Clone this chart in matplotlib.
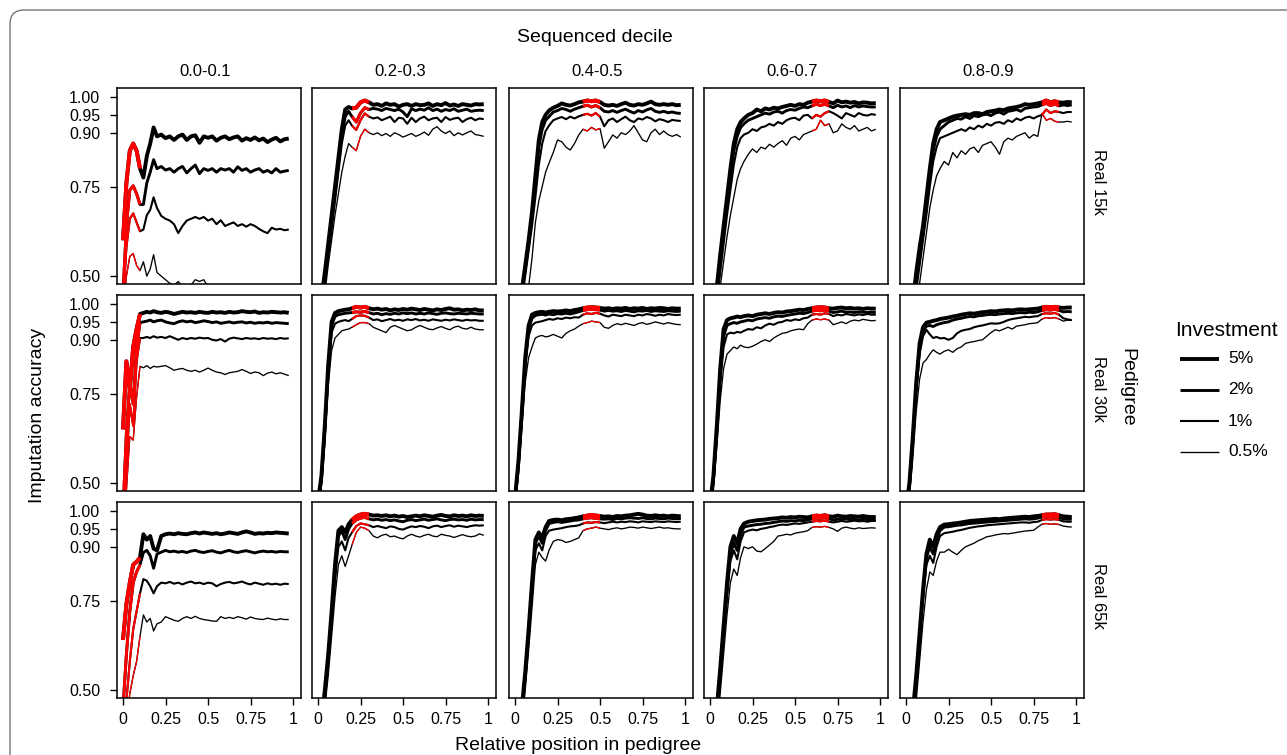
import matplotlib
matplotlib.use("Agg")
import matplotlib.pyplot as plt
from matplotlib.patches import FancyBboxPatch
from matplotlib.lines import Line2D
from matplotlib.transforms import IdentityTransform

plt.rcParams['font.family'] = ['Liberation Sans', 'DejaVu Sans']

# ---------------- data ----------------
X = [0.00, 0.02, 0.04, 0.06, 0.08, 0.10, 0.12, 0.14, 0.16, 0.18, 0.20,
     0.225, 0.25, 0.275, 0.30, 0.325, 0.35, 0.375, 0.40, 0.425, 0.45, 0.475,
     0.50, 0.525, 0.55, 0.575, 0.60, 0.625, 0.65, 0.675, 0.70, 0.725, 0.75,
     0.775, 0.80, 0.825, 0.85, 0.875, 0.90, 0.925, 0.95, 0.975]

decile_labels = ["0.0-0.1", "0.2-0.3", "0.4-0.5", "0.6-0.7", "0.8-0.9"]
decile_lo = [0.0, 0.2, 0.4, 0.6, 0.8]
pedigree_labels = ["Real 15k", "Real 30k", "Real 65k"]
investment_labels = ["5%", "2%", "1%", "0.5%"]
y_ticks = [0.50, 0.75, 0.90, 0.95, 1.00]
y_tick_labels = ["0.50", "0.75", "0.90", "0.95", "1.00"]
x_ticks = [0, 0.25, 0.5, 0.75, 1]
x_tick_labels = ["0", "0.25", "0.5", "0.75", "1"]

# each panel: [5%, 2%, 1%, 0.5%]
acc_15k_00 = [
    [0.60, 0.76, 0.85, 0.87, 0.85, 0.80, 0.775, 0.835, 0.87, 0.915, 0.89,
     0.895, 0.885, 0.89, 0.88, 0.89, 0.895, 0.88, 0.89, 0.893, 0.872, 0.89, 0.886, 0.89, 0.878, 0.886, 0.89, 0.882, 0.887, 0.89, 0.878, 0.885, 0.88, 0.887, 0.879, 0.884, 0.874, 0.881, 0.886, 0.876, 0.882, 0.884],
    [0.45, 0.64, 0.74, 0.752, 0.73, 0.70, 0.70, 0.76, 0.79, 0.825, 0.80,
     0.806, 0.796, 0.80, 0.79, 0.80, 0.806, 0.788, 0.80, 0.81, 0.786, 0.80, 0.795, 0.80, 0.79, 0.80, 0.796, 0.80, 0.79, 0.805, 0.795, 0.80, 0.79, 0.796, 0.80, 0.79, 0.795, 0.788, 0.80, 0.79, 0.793, 0.795],
    [0.42, 0.58, 0.66, 0.675, 0.65, 0.625, 0.63, 0.67, 0.685, 0.72, 0.69,
     0.668, 0.66, 0.655, 0.645, 0.62, 0.64, 0.655, 0.66, 0.665, 0.66, 0.665, 0.655, 0.66, 0.645, 0.656, 0.64, 0.645, 0.65, 0.64, 0.645, 0.638, 0.645, 0.64, 0.632, 0.625, 0.62, 0.635, 0.63, 0.632, 0.628, 0.63],
    [0.40, 0.50, 0.555, 0.563, 0.53, 0.515, 0.54, 0.50, 0.52, 0.56, 0.51,
     0.50, 0.49, 0.48, 0.475, 0.485, 0.47, 0.465, 0.475, 0.49, 0.485, 0.49, 0.47, 0.455, 0.45, 0.44, 0.445, 0.44, 0.43, 0.44, 0.435, 0.44, 0.43, 0.44, 0.43, 0.435, 0.43, 0.44, 0.43, 0.435, 0.43, 0.43],
]
acc_15k_02 = [
    [0.38, 0.44, 0.51, 0.59, 0.67, 0.75, 0.83, 0.91, 0.965, 0.972, 0.968,
     0.97, 0.985, 0.99, 0.985, 0.978, 0.98, 0.975, 0.982, 0.978, 0.98, 0.973, 0.978, 0.98, 0.975, 0.98, 0.977, 0.978, 0.982, 0.975, 0.98, 0.977, 0.983, 0.976, 0.979, 0.975, 0.98, 0.978, 0.976, 0.98, 0.979, 0.98],
    [0.36, 0.42, 0.49, 0.57, 0.65, 0.73, 0.81, 0.89, 0.945, 0.96, 0.945,
     0.93, 0.955, 0.97, 0.965, 0.968, 0.966, 0.962, 0.968, 0.965, 0.962, 0.966, 0.958, 0.945, 0.967, 0.962, 0.966, 0.963, 0.97, 0.962, 0.966, 0.96, 0.965, 0.962, 0.967, 0.96, 0.963, 0.966, 0.96, 0.962, 0.963, 0.962],
    [0.35, 0.41, 0.48, 0.56, 0.63, 0.71, 0.79, 0.87, 0.92, 0.935, 0.92,
     0.908, 0.935, 0.954, 0.945, 0.94, 0.943, 0.935, 0.94, 0.945, 0.93, 0.942, 0.94, 0.925, 0.942, 0.93, 0.94, 0.945, 0.935, 0.94, 0.942, 0.93, 0.944, 0.936, 0.94, 0.942, 0.93, 0.938, 0.942, 0.935, 0.94, 0.938],
    [0.33, 0.39, 0.45, 0.53, 0.60, 0.67, 0.73, 0.79, 0.835, 0.87, 0.86,
     0.85, 0.89, 0.91, 0.90, 0.895, 0.90, 0.892, 0.898, 0.89, 0.90, 0.895, 0.888, 0.893, 0.898, 0.89, 0.895, 0.902, 0.893, 0.91, 0.917, 0.905, 0.898, 0.905, 0.892, 0.90, 0.894, 0.90, 0.905, 0.895, 0.893, 0.89],
]
acc_15k_04 = [
    [0.30, 0.38, 0.46, 0.53, 0.60, 0.68, 0.78, 0.88, 0.93, 0.95, 0.962,
     0.97, 0.975, 0.982, 0.978, 0.976, 0.98, 0.985, 0.987, 0.99, 0.988, 0.99, 0.986, 0.978, 0.976, 0.978, 0.975, 0.98, 0.984, 0.978, 0.976, 0.98, 0.978, 0.982, 0.987, 0.98, 0.978, 0.98, 0.978, 0.98, 0.977, 0.978],
    [0.29, 0.37, 0.45, 0.52, 0.59, 0.67, 0.76, 0.86, 0.91, 0.935, 0.945,
     0.958, 0.962, 0.968, 0.965, 0.96, 0.966, 0.97, 0.974, 0.977, 0.972, 0.976, 0.97, 0.96, 0.958, 0.962, 0.957, 0.962, 0.966, 0.96, 0.955, 0.962, 0.958, 0.964, 0.968, 0.96, 0.957, 0.96, 0.956, 0.958, 0.955, 0.954],
    [0.28, 0.35, 0.43, 0.50, 0.57, 0.64, 0.72, 0.81, 0.87, 0.905, 0.92,
     0.935, 0.94, 0.944, 0.938, 0.945, 0.94, 0.946, 0.95, 0.953, 0.948, 0.955, 0.945, 0.918, 0.935, 0.94, 0.93, 0.938, 0.945, 0.935, 0.93, 0.94, 0.937, 0.944, 0.94, 0.932, 0.938, 0.935, 0.93, 0.936, 0.934, 0.933],
    [0.24, 0.30, 0.36, 0.42, 0.47, 0.55, 0.65, 0.71, 0.75, 0.79, 0.815,
     0.845, 0.88, 0.875, 0.86, 0.852, 0.87, 0.894, 0.91, 0.905, 0.915, 0.908, 0.912, 0.857, 0.875, 0.894, 0.885, 0.90, 0.895, 0.905, 0.92, 0.90, 0.88, 0.875, 0.90, 0.91, 0.895, 0.905, 0.895, 0.89, 0.895, 0.888],
]
acc_15k_06 = [
    [0.30, 0.38, 0.47, 0.56, 0.64, 0.72, 0.80, 0.87, 0.91, 0.93, 0.94,
     0.95, 0.955, 0.965, 0.96, 0.968, 0.965, 0.97, 0.968, 0.972, 0.975, 0.978, 0.975, 0.98, 0.978, 0.984, 0.987, 0.99, 0.988, 0.99, 0.986, 0.982, 0.99, 0.985, 0.987, 0.984, 0.986, 0.982, 0.985, 0.984, 0.982, 0.983],
    [0.29, 0.37, 0.45, 0.54, 0.62, 0.70, 0.78, 0.85, 0.89, 0.915, 0.925,
     0.935, 0.94, 0.945, 0.95, 0.955, 0.952, 0.958, 0.96, 0.955, 0.962, 0.965, 0.963, 0.968, 0.972, 0.97, 0.975, 0.98, 0.976, 0.98, 0.975, 0.97, 0.977, 0.972, 0.975, 0.97, 0.976, 0.972, 0.975, 0.973, 0.972, 0.972],
    [0.27, 0.35, 0.43, 0.51, 0.59, 0.67, 0.74, 0.81, 0.86, 0.885, 0.895,
     0.90, 0.91, 0.905, 0.915, 0.918, 0.925, 0.92, 0.93, 0.925, 0.935, 0.94, 0.942, 0.935, 0.948, 0.95, 0.94, 0.95, 0.945, 0.955, 0.96, 0.955, 0.948, 0.94, 0.955, 0.95, 0.945, 0.955, 0.95, 0.948, 0.952, 0.95],
    [0.25, 0.32, 0.40, 0.47, 0.54, 0.61, 0.67, 0.72, 0.77, 0.80, 0.82,
     0.84, 0.855, 0.845, 0.86, 0.855, 0.868, 0.86, 0.87, 0.878, 0.865, 0.885, 0.89, 0.88, 0.895, 0.90, 0.905, 0.91, 0.935, 0.92, 0.925, 0.90, 0.905, 0.925, 0.915, 0.91, 0.92, 0.905, 0.91, 0.915, 0.905, 0.91],
]
acc_15k_08 = [
    [0.28, 0.34, 0.43, 0.51, 0.58, 0.64, 0.72, 0.80, 0.87, 0.91, 0.93,
     0.935, 0.94, 0.945, 0.948, 0.95, 0.952, 0.95, 0.955, 0.955, 0.952, 0.958, 0.96, 0.962, 0.965, 0.963, 0.968, 0.97, 0.972, 0.975, 0.98, 0.978, 0.98, 0.982, 0.985, 0.99, 0.985, 0.988, 0.985, 0.984, 0.986, 0.985],
    [0.27, 0.33, 0.41, 0.49, 0.56, 0.62, 0.70, 0.78, 0.85, 0.89, 0.91,
     0.92, 0.93, 0.935, 0.94, 0.938, 0.945, 0.94, 0.948, 0.945, 0.95, 0.952, 0.948, 0.955, 0.958, 0.952, 0.96, 0.962, 0.965, 0.96, 0.968, 0.97, 0.972, 0.973, 0.978, 0.982, 0.976, 0.98, 0.975, 0.978, 0.976, 0.978],
    [0.26, 0.32, 0.39, 0.46, 0.53, 0.60, 0.67, 0.75, 0.82, 0.86, 0.885,
     0.89, 0.895, 0.90, 0.905, 0.91, 0.905, 0.915, 0.91, 0.92, 0.915, 0.925, 0.92, 0.928, 0.93, 0.925, 0.935, 0.93, 0.94, 0.935, 0.942, 0.945, 0.94, 0.946, 0.95, 0.965, 0.955, 0.96, 0.958, 0.955, 0.958, 0.958],
    [0.22, 0.28, 0.34, 0.41, 0.48, 0.55, 0.62, 0.69, 0.74, 0.78, 0.80,
     0.82, 0.81, 0.845, 0.83, 0.85, 0.84, 0.855, 0.86, 0.845, 0.865, 0.87, 0.875, 0.86, 0.84, 0.875, 0.885, 0.88, 0.89, 0.895, 0.90, 0.885, 0.895, 0.89, 0.954, 0.935, 0.94, 0.932, 0.93, 0.93, 0.932, 0.93],
]
acc_30k_00 = [
    [0.65, 0.84, 0.76, 0.88, 0.93, 0.972, 0.975, 0.978, 0.976, 0.98, 0.977,
     0.975, 0.978, 0.976, 0.972, 0.975, 0.978, 0.976, 0.977, 0.975, 0.978, 0.976, 0.975, 0.978, 0.976, 0.977, 0.975, 0.978, 0.976, 0.977, 0.98, 0.978, 0.977, 0.979, 0.975, 0.977, 0.976, 0.978, 0.977, 0.976, 0.977, 0.975],
    [0.42, 0.64, 0.78, 0.72, 0.88, 0.948, 0.95, 0.952, 0.955, 0.95, 0.953,
     0.955, 0.95, 0.947, 0.945, 0.95, 0.953, 0.95, 0.952, 0.948, 0.95, 0.953, 0.951, 0.948, 0.95, 0.946, 0.948, 0.95, 0.947, 0.949, 0.95, 0.947, 0.949, 0.946, 0.948, 0.947, 0.949, 0.946, 0.948, 0.947, 0.946, 0.945],
    [0.40, 0.55, 0.72, 0.66, 0.84, 0.905, 0.905, 0.908, 0.905, 0.91, 0.906,
     0.908, 0.905, 0.91, 0.905, 0.90, 0.905, 0.902, 0.905, 0.903, 0.906, 0.904, 0.905, 0.90, 0.898, 0.902, 0.895, 0.903, 0.906, 0.904, 0.902, 0.905, 0.903, 0.904, 0.902, 0.905, 0.903, 0.904, 0.902, 0.905, 0.903, 0.904],
    [0.38, 0.48, 0.63, 0.62, 0.74, 0.826, 0.822, 0.828, 0.82, 0.826, 0.824,
     0.826, 0.828, 0.822, 0.815, 0.818, 0.82, 0.815, 0.812, 0.815, 0.81, 0.815, 0.821, 0.815, 0.81, 0.808, 0.803, 0.808, 0.81, 0.812, 0.817, 0.812, 0.806, 0.81, 0.808, 0.80, 0.807, 0.81, 0.805, 0.808, 0.804, 0.80],
]
acc_30k_02 = [
    [0.45, 0.52, 0.66, 0.83, 0.95, 0.975, 0.98, 0.982, 0.984, 0.985, 0.988,
     0.992, 0.99, 0.992, 0.988, 0.985, 0.987, 0.984, 0.986, 0.982, 0.985, 0.983, 0.986, 0.984, 0.987, 0.985, 0.983, 0.986, 0.984, 0.982, 0.985, 0.983, 0.986, 0.988, 0.984, 0.985, 0.982, 0.984, 0.983, 0.985, 0.982, 0.982],
    [0.44, 0.51, 0.65, 0.82, 0.94, 0.965, 0.97, 0.972, 0.974, 0.975, 0.976,
     0.978, 0.977, 0.979, 0.976, 0.972, 0.974, 0.97, 0.973, 0.971, 0.974, 0.972, 0.975, 0.973, 0.975, 0.972, 0.974, 0.972, 0.975, 0.973, 0.971, 0.974, 0.975, 0.973, 0.972, 0.974, 0.973, 0.972, 0.974, 0.973, 0.972, 0.972],
    [0.43, 0.50, 0.63, 0.80, 0.92, 0.945, 0.95, 0.953, 0.955, 0.952, 0.958,
     0.966, 0.968, 0.967, 0.962, 0.955, 0.957, 0.952, 0.955, 0.958, 0.954, 0.956, 0.953, 0.957, 0.955, 0.958, 0.954, 0.956, 0.953, 0.957, 0.955, 0.953, 0.956, 0.954, 0.957, 0.955, 0.953, 0.956, 0.954, 0.955, 0.953, 0.953],
    [0.42, 0.49, 0.61, 0.77, 0.87, 0.905, 0.915, 0.925, 0.928, 0.93, 0.935,
     0.942, 0.948, 0.948, 0.945, 0.935, 0.93, 0.925, 0.92, 0.935, 0.94, 0.935, 0.93, 0.925, 0.928, 0.935, 0.94, 0.935, 0.93, 0.928, 0.933, 0.937, 0.932, 0.928, 0.935, 0.938, 0.932, 0.93, 0.935, 0.93, 0.928, 0.928],
]
acc_30k_04 = [
    [0.46, 0.56, 0.70, 0.85, 0.94, 0.97, 0.975, 0.977, 0.978, 0.976, 0.978,
     0.98, 0.979, 0.98, 0.982, 0.98, 0.983, 0.985, 0.988, 0.99, 0.991, 0.99, 0.989, 0.987, 0.988, 0.986, 0.988, 0.987, 0.989, 0.986, 0.988, 0.987, 0.989, 0.986, 0.988, 0.987, 0.989, 0.988, 0.986, 0.988, 0.987, 0.987],
    [0.45, 0.55, 0.69, 0.84, 0.93, 0.96, 0.968, 0.97, 0.971, 0.969, 0.972,
     0.97, 0.973, 0.972, 0.974, 0.972, 0.975, 0.978, 0.982, 0.984, 0.985, 0.984, 0.983, 0.98, 0.982, 0.98, 0.981, 0.979, 0.982, 0.98, 0.978, 0.981, 0.98, 0.982, 0.979, 0.981, 0.98, 0.979, 0.981, 0.98, 0.979, 0.98],
    [0.44, 0.54, 0.68, 0.82, 0.91, 0.94, 0.948, 0.95, 0.952, 0.955, 0.958,
     0.956, 0.96, 0.958, 0.962, 0.96, 0.963, 0.962, 0.97, 0.974, 0.972, 0.975, 0.973, 0.968, 0.965, 0.97, 0.968, 0.966, 0.97, 0.968, 0.966, 0.97, 0.968, 0.972, 0.97, 0.967, 0.97, 0.968, 0.972, 0.97, 0.969, 0.97],
    [0.43, 0.52, 0.65, 0.78, 0.85, 0.88, 0.905, 0.91, 0.912, 0.908, 0.91,
     0.915, 0.91, 0.905, 0.918, 0.925, 0.93, 0.938, 0.945, 0.948, 0.952, 0.95, 0.948, 0.935, 0.932, 0.94, 0.945, 0.942, 0.946, 0.943, 0.94, 0.945, 0.948, 0.943, 0.946, 0.95, 0.947, 0.944, 0.948, 0.945, 0.943, 0.942],
]
acc_30k_06 = [
    [0.44, 0.52, 0.66, 0.82, 0.93, 0.955, 0.96, 0.962, 0.965, 0.963, 0.966,
     0.968, 0.966, 0.97, 0.972, 0.974, 0.972, 0.975, 0.977, 0.976, 0.979, 0.98, 0.982, 0.984, 0.983, 0.986, 0.988, 0.99, 0.991, 0.99, 0.988, 0.987, 0.989, 0.99, 0.988, 0.989, 0.987, 0.988, 0.986, 0.988, 0.987, 0.987],
    [0.43, 0.51, 0.65, 0.80, 0.91, 0.94, 0.945, 0.948, 0.946, 0.95, 0.952,
     0.955, 0.953, 0.958, 0.96, 0.962, 0.96, 0.964, 0.966, 0.965, 0.968, 0.97, 0.972, 0.974, 0.973, 0.976, 0.98, 0.982, 0.981, 0.983, 0.98, 0.976, 0.978, 0.98, 0.977, 0.978, 0.976, 0.978, 0.977, 0.976, 0.977, 0.976],
    [0.42, 0.50, 0.63, 0.78, 0.88, 0.915, 0.92, 0.918, 0.922, 0.92, 0.925,
     0.93, 0.928, 0.935, 0.932, 0.94, 0.945, 0.942, 0.948, 0.95, 0.955, 0.953, 0.957, 0.955, 0.96, 0.962, 0.97, 0.972, 0.97, 0.974, 0.972, 0.966, 0.97, 0.968, 0.972, 0.97, 0.968, 0.971, 0.969, 0.972, 0.97, 0.97],
    [0.40, 0.48, 0.60, 0.73, 0.82, 0.86, 0.87, 0.88, 0.875, 0.885, 0.88,
     0.878, 0.882, 0.888, 0.895, 0.90, 0.895, 0.905, 0.912, 0.918, 0.92, 0.925, 0.928, 0.93, 0.928, 0.945, 0.955, 0.958, 0.956, 0.958, 0.955, 0.942, 0.946, 0.95, 0.945, 0.952, 0.955, 0.953, 0.957, 0.955, 0.953, 0.954],
]
acc_30k_08 = [
    [0.43, 0.50, 0.63, 0.78, 0.89, 0.935, 0.948, 0.95, 0.953, 0.955, 0.958,
     0.96, 0.962, 0.965, 0.967, 0.97, 0.972, 0.974, 0.973, 0.975, 0.977, 0.978, 0.98, 0.979, 0.981, 0.982, 0.983, 0.982, 0.984, 0.985, 0.984, 0.985, 0.986, 0.987, 0.99, 0.992, 0.991, 0.992, 0.99, 0.989, 0.99, 0.99],
    [0.42, 0.49, 0.62, 0.77, 0.88, 0.925, 0.938, 0.94, 0.937, 0.942, 0.945,
     0.948, 0.95, 0.955, 0.958, 0.96, 0.963, 0.965, 0.964, 0.967, 0.968, 0.97, 0.971, 0.97, 0.972, 0.973, 0.974, 0.973, 0.975, 0.976, 0.975, 0.977, 0.976, 0.978, 0.982, 0.984, 0.983, 0.985, 0.982, 0.978, 0.979, 0.978],
    [0.41, 0.48, 0.60, 0.75, 0.86, 0.91, 0.928, 0.915, 0.905, 0.908, 0.904,
     0.905, 0.90, 0.905, 0.918, 0.925, 0.928, 0.93, 0.935, 0.938, 0.94, 0.943, 0.946, 0.945, 0.946, 0.95, 0.955, 0.958, 0.96, 0.962, 0.964, 0.963, 0.965, 0.966, 0.972, 0.974, 0.973, 0.975, 0.97, 0.96, 0.957, 0.955],
    [0.40, 0.46, 0.57, 0.70, 0.79, 0.835, 0.845, 0.86, 0.872, 0.865, 0.86,
     0.868, 0.872, 0.865, 0.875, 0.88, 0.89, 0.893, 0.895, 0.898, 0.90, 0.91, 0.92, 0.928, 0.925, 0.93, 0.935, 0.93, 0.938, 0.94, 0.942, 0.945, 0.946, 0.948, 0.958, 0.962, 0.96, 0.962, 0.958, 0.952, 0.955, 0.954],
]
acc_65k_00 = [
    [0.64, 0.74, 0.80, 0.85, 0.858, 0.87, 0.935, 0.92, 0.93, 0.895, 0.89,
     0.93, 0.935, 0.937, 0.935, 0.938, 0.936, 0.935, 0.938, 0.94, 0.937, 0.94, 0.938, 0.936, 0.938, 0.935, 0.937, 0.94, 0.938, 0.936, 0.94, 0.943, 0.94, 0.936, 0.938, 0.937, 0.939, 0.938, 0.94, 0.939, 0.938, 0.937],
    [0.45, 0.60, 0.72, 0.80, 0.83, 0.85, 0.884, 0.89, 0.875, 0.84, 0.88,
     0.885, 0.89, 0.886, 0.888, 0.885, 0.887, 0.884, 0.888, 0.89, 0.886, 0.884, 0.887, 0.889, 0.885, 0.883, 0.887, 0.89, 0.886, 0.884, 0.887, 0.889, 0.886, 0.883, 0.886, 0.888, 0.886, 0.887, 0.885, 0.887, 0.886, 0.886],
    [0.40, 0.47, 0.58, 0.67, 0.72, 0.77, 0.81, 0.805, 0.79, 0.77, 0.79,
     0.80, 0.798, 0.802, 0.797, 0.80, 0.795, 0.80, 0.803, 0.798, 0.80, 0.796, 0.80, 0.798, 0.79, 0.796, 0.80, 0.802, 0.798, 0.80, 0.803, 0.798, 0.795, 0.80, 0.797, 0.794, 0.798, 0.795, 0.797, 0.794, 0.797, 0.796],
    [0.38, 0.42, 0.49, 0.54, 0.58, 0.65, 0.71, 0.69, 0.70, 0.665, 0.685,
     0.69, 0.705, 0.70, 0.695, 0.692, 0.70, 0.705, 0.70, 0.706, 0.70, 0.697, 0.695, 0.693, 0.692, 0.705, 0.70, 0.703, 0.70, 0.705, 0.702, 0.698, 0.704, 0.70, 0.698, 0.697, 0.701, 0.698, 0.696, 0.699, 0.697, 0.697],
]
acc_65k_02 = [
    [0.35, 0.41, 0.50, 0.60, 0.72, 0.85, 0.945, 0.955, 0.94, 0.963, 0.975,
     0.985, 0.99, 0.992, 0.99, 0.987, 0.988, 0.986, 0.988, 0.985, 0.987, 0.984, 0.986, 0.983, 0.985, 0.987, 0.985, 0.988, 0.986, 0.984, 0.987, 0.989, 0.986, 0.985, 0.988, 0.986, 0.987, 0.985, 0.988, 0.986, 0.987, 0.986],
    [0.34, 0.40, 0.49, 0.59, 0.71, 0.83, 0.93, 0.945, 0.92, 0.95, 0.965,
     0.975, 0.98, 0.982, 0.978, 0.975, 0.977, 0.974, 0.976, 0.973, 0.975, 0.972, 0.97, 0.974, 0.976, 0.973, 0.975, 0.977, 0.974, 0.976, 0.978, 0.975, 0.973, 0.976, 0.977, 0.975, 0.976, 0.974, 0.977, 0.975, 0.976, 0.976],
    [0.33, 0.39, 0.47, 0.57, 0.69, 0.81, 0.90, 0.915, 0.89, 0.925, 0.94,
     0.958, 0.965, 0.963, 0.96, 0.955, 0.958, 0.955, 0.952, 0.957, 0.955, 0.95, 0.948, 0.953, 0.957, 0.955, 0.958, 0.956, 0.952, 0.957, 0.959, 0.955, 0.958, 0.96, 0.956, 0.959, 0.957, 0.955, 0.958, 0.96, 0.959, 0.96],
    [0.32, 0.37, 0.45, 0.54, 0.65, 0.76, 0.85, 0.875, 0.845, 0.875, 0.905,
     0.94, 0.955, 0.952, 0.945, 0.93, 0.925, 0.932, 0.935, 0.928, 0.93, 0.925, 0.922, 0.93, 0.935, 0.93, 0.927, 0.932, 0.935, 0.93, 0.928, 0.935, 0.932, 0.93, 0.926, 0.93, 0.934, 0.93, 0.928, 0.93, 0.936, 0.932],
]
acc_65k_04 = [
    [0.30, 0.36, 0.45, 0.55, 0.67, 0.80, 0.92, 0.94, 0.925, 0.955, 0.972,
     0.975, 0.976, 0.974, 0.977, 0.978, 0.98, 0.982, 0.985, 0.987, 0.989, 0.987, 0.986, 0.984, 0.985, 0.983, 0.986, 0.985, 0.987, 0.988, 0.99, 0.992, 0.99, 0.987, 0.986, 0.988, 0.986, 0.987, 0.985, 0.987, 0.986, 0.985],
    [0.29, 0.35, 0.44, 0.54, 0.66, 0.79, 0.91, 0.93, 0.91, 0.945, 0.965,
     0.968, 0.97, 0.968, 0.97, 0.972, 0.974, 0.975, 0.978, 0.98, 0.981, 0.979, 0.978, 0.977, 0.978, 0.976, 0.979, 0.978, 0.98, 0.981, 0.98, 0.979, 0.981, 0.979, 0.978, 0.98, 0.979, 0.978, 0.98, 0.979, 0.978, 0.979],
    [0.28, 0.34, 0.43, 0.53, 0.65, 0.77, 0.89, 0.91, 0.89, 0.93, 0.945,
     0.948, 0.95, 0.952, 0.955, 0.957, 0.958, 0.96, 0.965, 0.968, 0.967, 0.969, 0.968, 0.966, 0.968, 0.97, 0.968, 0.97, 0.969, 0.971, 0.97, 0.968, 0.971, 0.97, 0.969, 0.971, 0.97, 0.969, 0.971, 0.97, 0.969, 0.97],
    [0.27, 0.32, 0.40, 0.50, 0.61, 0.73, 0.85, 0.885, 0.87, 0.86, 0.89,
     0.915, 0.92, 0.918, 0.912, 0.915, 0.92, 0.925, 0.945, 0.95, 0.952, 0.955, 0.952, 0.95, 0.948, 0.951, 0.953, 0.95, 0.952, 0.955, 0.954, 0.952, 0.955, 0.953, 0.951, 0.953, 0.955, 0.952, 0.953, 0.951, 0.95, 0.95],
]
acc_65k_06 = [
    [0.30, 0.36, 0.45, 0.56, 0.68, 0.80, 0.90, 0.93, 0.91, 0.95, 0.965,
     0.97, 0.972, 0.974, 0.975, 0.976, 0.978, 0.979, 0.98, 0.982, 0.981, 0.983, 0.982, 0.984, 0.983, 0.982, 0.985, 0.987, 0.986, 0.988, 0.985, 0.984, 0.987, 0.985, 0.984, 0.986, 0.985, 0.984, 0.986, 0.984, 0.983, 0.983],
    [0.29, 0.35, 0.44, 0.55, 0.67, 0.78, 0.88, 0.91, 0.89, 0.935, 0.955,
     0.958, 0.96, 0.962, 0.963, 0.965, 0.966, 0.968, 0.97, 0.972, 0.971, 0.973, 0.972, 0.974, 0.973, 0.975, 0.978, 0.98, 0.979, 0.981, 0.978, 0.975, 0.977, 0.976, 0.978, 0.976, 0.977, 0.975, 0.977, 0.976, 0.976, 0.976],
    [0.28, 0.34, 0.42, 0.53, 0.65, 0.76, 0.86, 0.89, 0.865, 0.915, 0.94,
     0.945, 0.948, 0.946, 0.95, 0.952, 0.955, 0.957, 0.96, 0.962, 0.961, 0.963, 0.965, 0.964, 0.966, 0.968, 0.97, 0.972, 0.971, 0.973, 0.97, 0.968, 0.97, 0.972, 0.97, 0.971, 0.973, 0.971, 0.972, 0.97, 0.972, 0.972],
    [0.26, 0.31, 0.39, 0.49, 0.60, 0.71, 0.80, 0.838, 0.82, 0.87, 0.90,
     0.895, 0.90, 0.888, 0.886, 0.895, 0.905, 0.915, 0.93, 0.932, 0.935, 0.933, 0.938, 0.94, 0.942, 0.945, 0.954, 0.956, 0.955, 0.957, 0.954, 0.95, 0.943, 0.952, 0.955, 0.952, 0.95, 0.953, 0.951, 0.952, 0.953, 0.952],
]
acc_65k_08 = [
    [0.30, 0.35, 0.44, 0.54, 0.66, 0.78, 0.88, 0.92, 0.90, 0.935, 0.955,
     0.962, 0.963, 0.965, 0.966, 0.968, 0.97, 0.972, 0.973, 0.974, 0.975, 0.976, 0.977, 0.978, 0.977, 0.979, 0.98, 0.981, 0.982, 0.983, 0.984, 0.983, 0.985, 0.986, 0.988, 0.99, 0.99, 0.991, 0.988, 0.985, 0.984, 0.983],
    [0.29, 0.34, 0.43, 0.53, 0.65, 0.77, 0.87, 0.90, 0.88, 0.92, 0.945,
     0.955, 0.956, 0.958, 0.96, 0.961, 0.963, 0.965, 0.966, 0.967, 0.968, 0.969, 0.97, 0.971, 0.972, 0.973, 0.974, 0.975, 0.976, 0.977, 0.978, 0.977, 0.978, 0.98, 0.983, 0.985, 0.984, 0.985, 0.982, 0.978, 0.977, 0.977],
    [0.28, 0.33, 0.41, 0.51, 0.63, 0.75, 0.85, 0.875, 0.855, 0.90, 0.93,
     0.938, 0.94, 0.942, 0.945, 0.947, 0.95, 0.953, 0.955, 0.957, 0.958, 0.96, 0.961, 0.962, 0.963, 0.964, 0.965, 0.966, 0.967, 0.968, 0.968, 0.967, 0.969, 0.97, 0.975, 0.977, 0.976, 0.977, 0.975, 0.971, 0.97, 0.97],
    [0.26, 0.30, 0.38, 0.47, 0.58, 0.69, 0.78, 0.83, 0.82, 0.86, 0.885,
     0.885, 0.893, 0.885, 0.878, 0.89, 0.90, 0.905, 0.91, 0.917, 0.922, 0.928, 0.93, 0.933, 0.935, 0.937, 0.936, 0.938, 0.94, 0.942, 0.944, 0.945, 0.946, 0.955, 0.963, 0.965, 0.963, 0.964, 0.962, 0.958, 0.956, 0.955],
]

ACC = [
    [acc_15k_00, acc_15k_02, acc_15k_04, acc_15k_06, acc_15k_08],
    [acc_30k_00, acc_30k_02, acc_30k_04, acc_30k_06, acc_30k_08],
    [acc_65k_00, acc_65k_02, acc_65k_04, acc_65k_06, acc_65k_08],
]

# ---------------- layout ----------------
FIG_W, FIG_H = 1287, 755
fig = plt.figure(figsize=(FIG_W / 100, FIG_H / 100), dpi=100)
fig.patch.set_facecolor('white')

col_left = [117, 312, 509, 704, 900]
row_top = [88, 295, 502]
PW, PH = 184, 196
line_w = [2.8, 2.1, 1.5, 0.95]
TICK_FS = 11.5


def fx(px):
    return px / FIG_W


def fy(py):
    return 1 - py / FIG_H


bad = []
for r in range(3):
    for c in range(5):
        ax = fig.add_axes([fx(col_left[c]), fy(row_top[r] + PH), PW / FIG_W, PH / FIG_H])
        series = ACC[r][c]
        lo = decile_lo[c]
        hi = lo + 0.1
        for k in range(3, -1, -1):
            ys = series[k]
            if len(ys) != len(X):
                bad.append((r, c, k, len(ys)))
            n = min(len(ys), len(X))
            ax.plot(X[:n], ys[:n], color='black', lw=line_w[k],
                    solid_joinstyle='round', solid_capstyle='butt')
        for k in range(3, -1, -1):
            ys = series[k]
            pts = [(x, y) for x, y in zip(X, ys) if lo - 1e-9 <= x <= hi + 1e-9]
            ax.plot([p[0] for p in pts], [p[1] for p in pts], color='#ff0000',
                    lw=line_w[k], solid_joinstyle='round', solid_capstyle='butt')
        ax.set_xlim(-0.0353, 1.047)
        ax.set_ylim(0.478, 1.025)
        ax.set_xticks(x_ticks)
        ax.set_xticklabels(x_tick_labels)
        ax.set_yticks(y_ticks)
        ax.set_yticklabels(y_tick_labels)
        for sp in ax.spines.values():
            sp.set_linewidth(1.1)
            sp.set_color('black')
        ax.tick_params(axis='both', direction='out', length=5, width=1,
                       labelsize=TICK_FS, colors='black')
        ax.tick_params(axis='y', pad=7)
        ax.tick_params(axis='x', pad=5)
        if c != 0:
            ax.tick_params(axis='y', left=False, labelleft=False)
        if r != 2:
            ax.tick_params(axis='x', bottom=False, labelbottom=False)
        if r == 0:
            fig.text(fx(col_left[c] + PW / 2 - 4), fy(71), decile_labels[c],
                     ha='center', va='center', fontsize=12)
        if c == 4:
            fig.text(fx(1098), fy(row_top[r] + PH / 2 - 4), pedigree_labels[r],
                     ha='center', va='center', fontsize=12, rotation=-90)

# titles
fig.text(fx(595), fy(37), "Sequenced decile", ha='center', va='center', fontsize=14)
fig.text(fx(578), fy(745), "Relative position in pedigree", ha='center', va='center', fontsize=14)
fig.text(fx(38), fy(415), "Imputation accuracy", ha='center', va='center', fontsize=14, rotation=90)
fig.text(fx(1127), fy(387), "Pedigree", ha='center', va='center', fontsize=14, rotation=-90)

# legend
fig.text(fx(1175), fy(330), "Investment", ha='left', va='center', fontsize=15)
leg_y = [359, 390, 421, 452]
for k in range(4):
    fig.add_artist(Line2D([fx(1180), fx(1219)], [fy(leg_y[k]), fy(leg_y[k])],
                          transform=fig.transFigure, color='black', lw=line_w[k],
                          solid_capstyle='butt'))
    fig.text(fx(1228), fy(leg_y[k]), investment_labels[k], ha='left', va='center', fontsize=12.5)

# outer rounded frame
frame = FancyBboxPatch((10, -40), 1320, FIG_H - 10 + 40,
                       boxstyle="round,pad=0,rounding_size=14",
                       transform=IdentityTransform(), fill=False,
                       ec='#666666', lw=0.9)
fig.add_artist(frame)

fig.savefig("out.png", dpi=100, facecolor='white')

if bad:
    raise SystemExit("length mismatch: %s" % bad)
